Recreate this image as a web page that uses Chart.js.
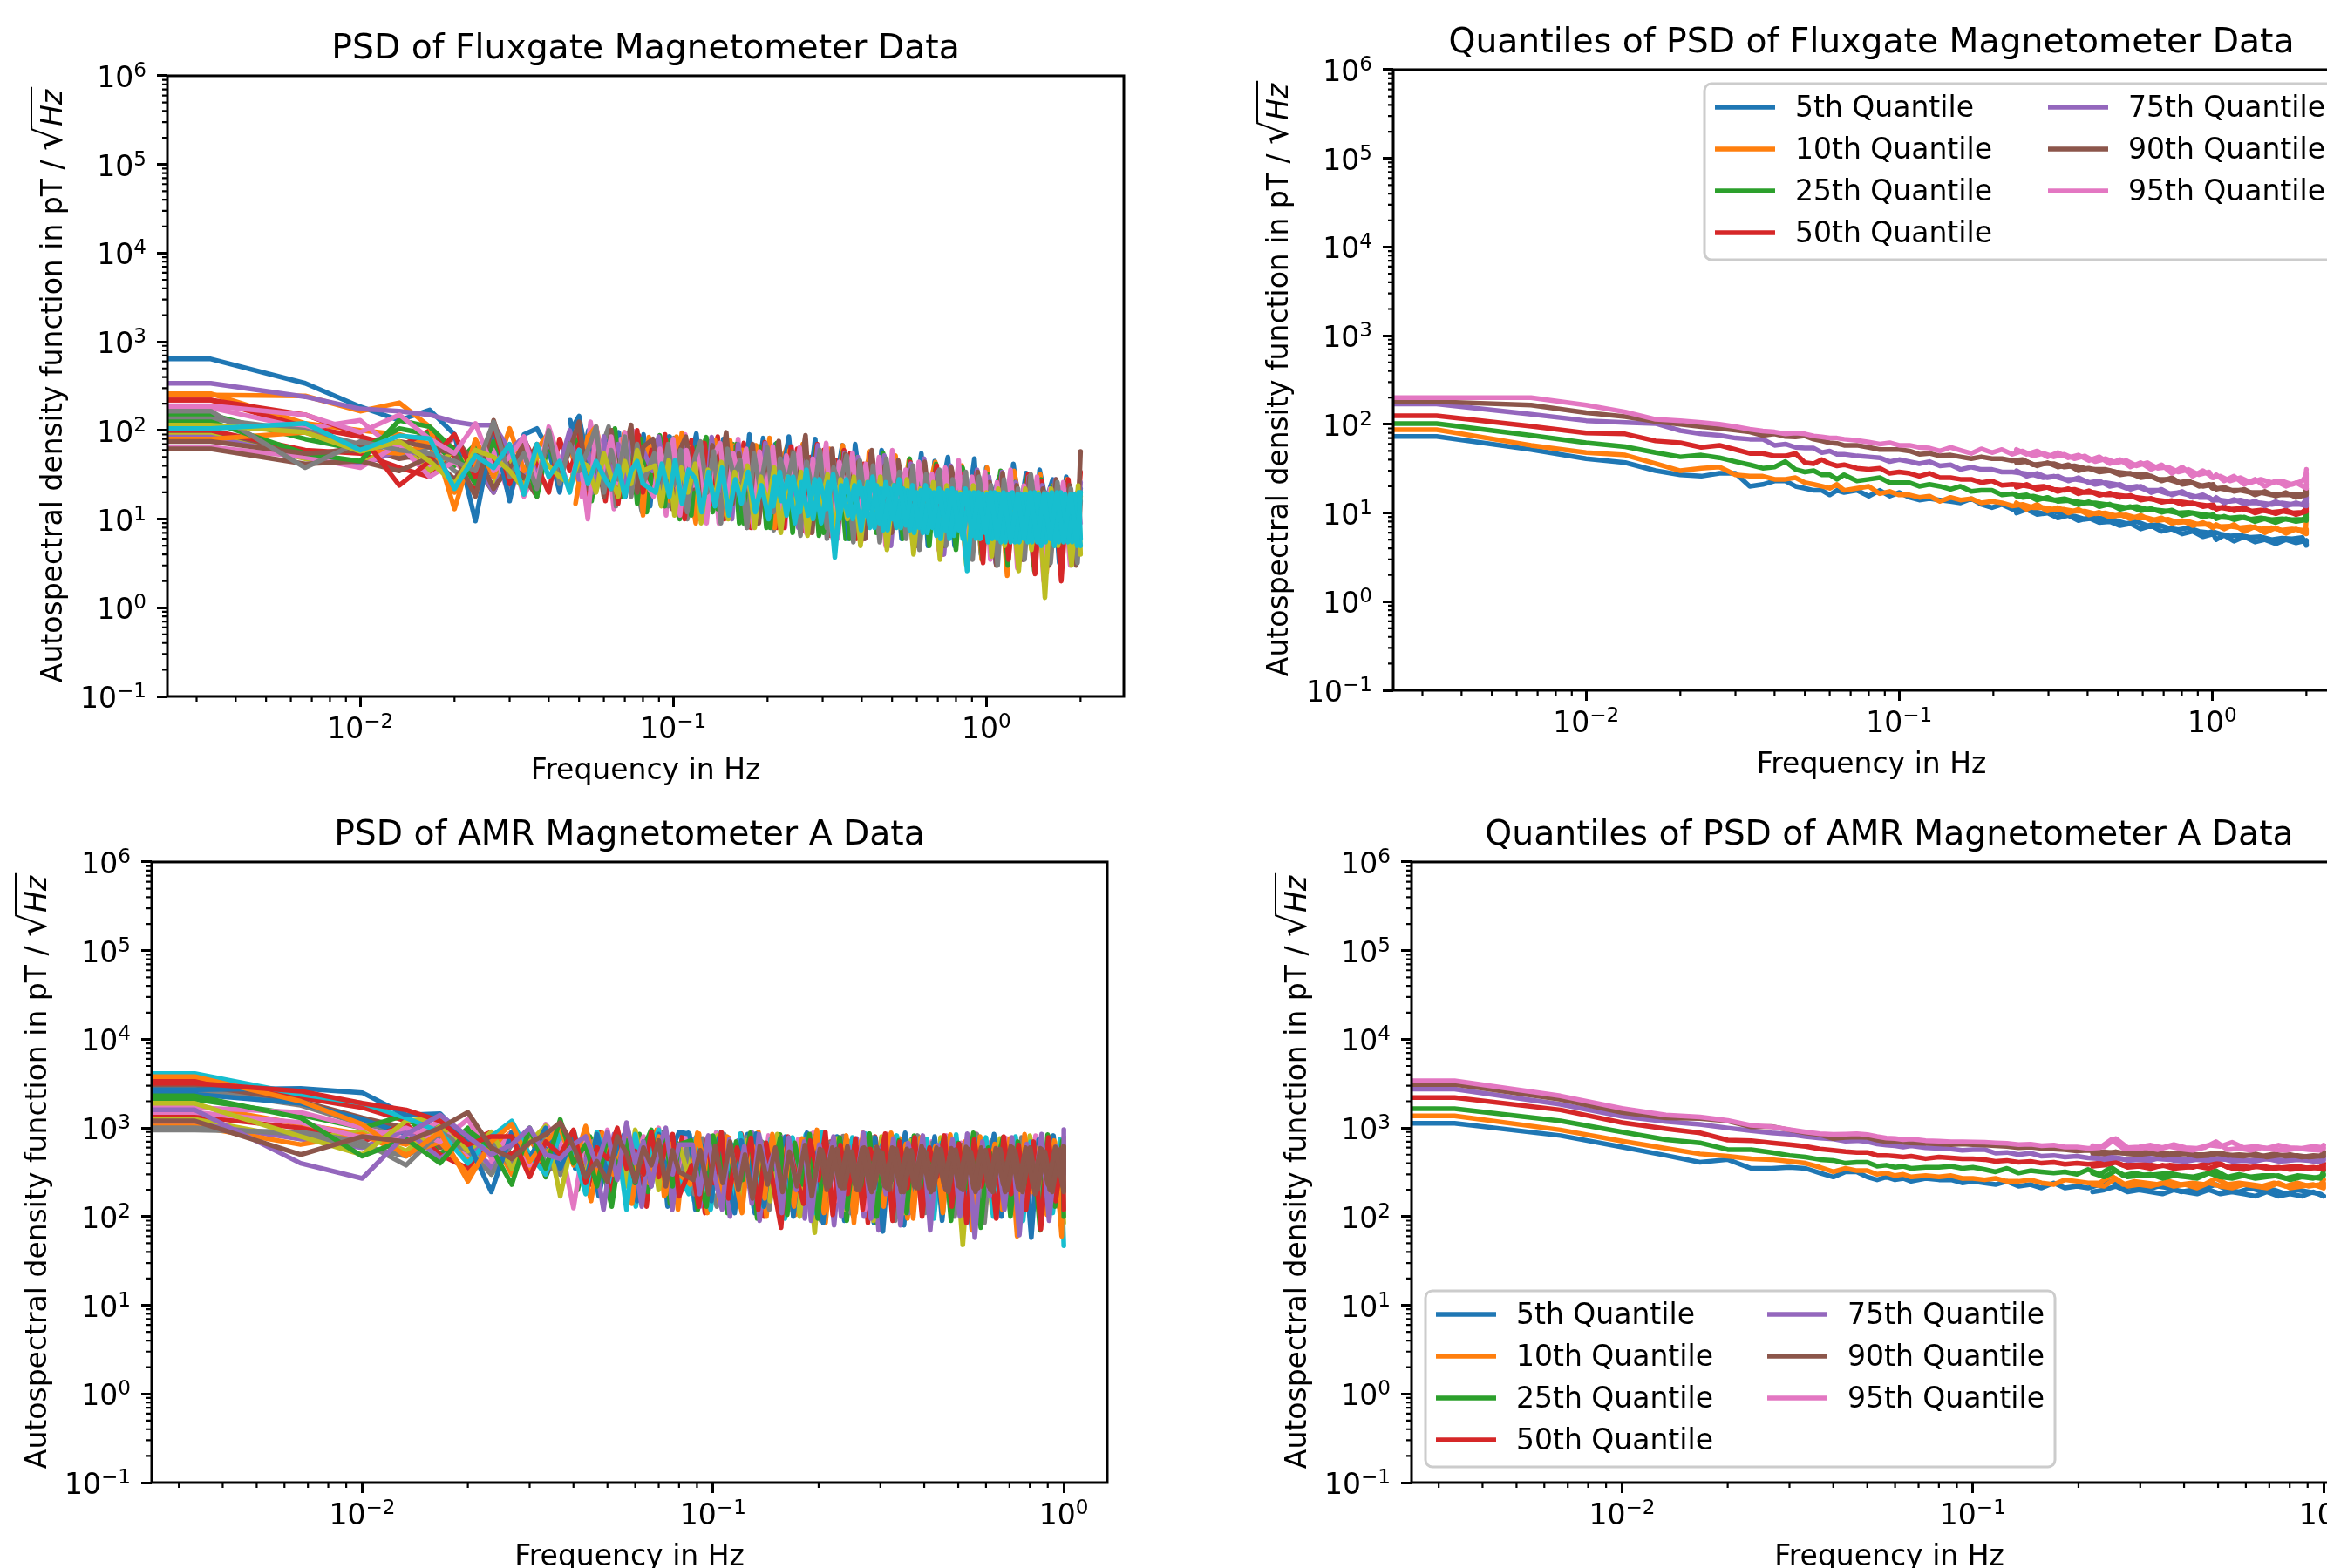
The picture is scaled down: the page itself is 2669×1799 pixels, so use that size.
<!DOCTYPE html>
<html>
<head>
<meta charset="utf-8">
<script src="https://cdn.jsdelivr.net/npm/chart.js@4"></script>
<style>
html, body { margin: 0; background: #fff; }
body { width: 2669px; height: 1799px; overflow: hidden; position: relative; }
canvas { position: absolute; }
</style>
</head>
<body>
<canvas id="fluxPsd" style="left:32px;top:26px" width="1280" height="879"></canvas>
<canvas id="fluxQuant" style="left:1438px;top:19px" width="1280" height="879"></canvas>
<canvas id="amrPsd" style="left:14px;top:928px" width="1280" height="879"></canvas>
<canvas id="amrQuant" style="left:1459px;top:928px" width="1280" height="879"></canvas>
<script>
var palette = ['#1f77b4', '#ff7f0e', '#2ca02c', '#d62728', '#9467bd', '#8c564b', '#e377c2', '#7f7f7f', '#bcbd22', '#17becf'];

var xDecades = [0.001, 0.01, 0.1, 1];
var xTickExponents = ['', '−2', '−1', '0'];
var yDecades = [0.1, 1, 10, 100, 1000, 10000, 100000, 1000000];
var yTickExponents = ['−1', '0', '1', '2', '3', '4', '5', '6'];
var quantileLabels = ['5th Quantile', '10th Quantile', '25th Quantile', '50th Quantile', '75th Quantile', '90th Quantile', '95th Quantile'];

// frequencies shared by the two raw PSD panels
var freqs = [0.0024, 0.00333, 0.00667, 0.01, 0.01333, 0.01667, 0.02, 0.02333, 0.02667, 0.03, 0.03333, 0.03667, 0.04, 0.04333, 0.04667, 0.05, 0.05333, 0.05667, 0.06, 0.06333, 0.06667, 0.07, 0.07333, 0.07667, 0.08,
  0.084, 0.088, 0.093, 0.097, 0.102, 0.107, 0.113, 0.118, 0.124, 0.13, 0.137, 0.144, 0.151, 0.158, 0.166, 0.175, 0.183, 0.193, 0.202, 0.212, 0.223, 0.234, 0.246, 0.258, 0.271, 0.284, 0.299, 0.314, 0.329, 0.346, 0.363, 0.381, 0.4, 0.42, 0.441, 0.463, 0.486, 0.51, 0.536, 0.563, 0.591, 0.62, 0.651, 0.684, 0.718, 0.754, 0.792, 0.831, 0.873, 0.916, 0.962, 1,
  1.05, 1.1, 1.16, 1.22, 1.28, 1.34, 1.41, 1.48, 1.55, 1.63, 1.71, 1.8, 1.89, 2];
// frequencies shared by the two quantile panels
var qFreqs = [0.0024, 0.00333, 0.00667, 0.01, 0.01333, 0.01667, 0.02, 0.02333, 0.02667, 0.03, 0.03333, 0.03667, 0.04, 0.04333, 0.04667, 0.05, 0.05333, 0.05667, 0.06, 0.0633, 0.0667, 0.0733, 0.08, 0.0867, 0.0933, 0.1,
  0.108, 0.116, 0.125, 0.135, 0.146, 0.157, 0.17, 0.183, 0.198, 0.213, 0.23, 0.248, 0.268, 0.289, 0.312, 0.337, 0.363, 0.392, 0.423, 0.457, 0.493, 0.532, 0.574, 0.62, 0.669, 0.722, 0.779, 0.841, 0.907, 0.979, 1,
  1.06, 1.14, 1.23, 1.33, 1.43, 1.55, 1.67, 1.8, 1.94, 1.99, 2];

// fluxgate, the crowd of lines that only matter at the left end
var fluxFanColors = [1, 3, 6, 2, 7, 5, 3, 8, 4, 1, 6, 5];
var fluxFan = [
  [260,260,120,100,90,70,60,35,50,28,60,40],
  [220,220,110,85,65,100,50,30,70,35,28,55],
  [180,180,105,130,55,40,85,28,30,60,18,40],
  [150,150,80,60,105,90,40,70,30,50,25,60],
  [135,135,100,70,50,65,35,25,60,22,50,30],
  [95,95,52,65,48,55,85,40,20,55,35,70],
  [100,100,60,55,38,30,65,22,45,30,60,25],
  [88,88,48,42,70,35,60,30,25,50,20,45],
  [84,84,50,40,60,52,28,45,20,60,35,25],
  [80,80,95,60,55,70,20,40,85,30,25,50],
  [65,65,50,38,70,30,45,25,60,18,50,28],
  [62,62,42,45,35,50,28,60,22,40,30,18]
];
// middle stretch only, starts at freqs[14]
var fluxMidStart = 14;
var fluxMidColors = [0, 3, 6, 2, 7, 1];
var fluxMid = [
  [130,30,100,22,85,40,95,18,70,28,90,14,75,35,85,12,60,45,92,20,70,14,80,32,65,11,75,24,82,10,60,38,70,9,58,28,72,8,55,22,68,7,48,30],
  [25,110,35,80,16,100,30,65,20,88,12,70,42,90,15,60,30,78,10,66,38,85,10,58,26,72,8,60,34,68,8,52,24,62,7.5,50,30,60,6.5,46,20,55,6,42],
  [60,18,125,26,70,13,80,45,98,15,55,30,82,11,70,22,90,14,62,38,75,9,55,28,80,12,60,9,70,26,50,8,66,16,58,7,44,24,56,6,52,14,40,6],
  [90,40,16,72,28,105,18,60,35,80,12,55,88,22,66,10,74,30,50,84,12,62,24,70,9,54,36,66,8,48,20,58,7,50,30,44,6.5,54,14,40,6,46,18,36],
  [35,85,20,60,110,14,50,88,25,12,76,40,58,14,82,26,10,66,44,16,72,9,50,30,60,8,64,18,44,7.5,56,26,42,6.5,52,12,38,6,46,20,34,5.5,40,9],
  [15,70,100,24,55,18,92,30,60,11,84,20,50,72,14,94,28,9,60,40,78,11,48,68,18,9,52,32,62,8,42,72,12,46,8,56,20,36,6,48,10,38,5.5,44]
];
var fluxBlue = [640,640,340,185,130,170,90,9.5,105,16,90,105,60,20,95,145,40,70,28,90,35,70,22,80,30,
  30,75,20,85,35,70,15,80,28,60,14,75,25,65,12,90,22,55,10,70,30,85,12,60,20,80,9,55,22,65,6,70,18,45,8,60,25,50,6,40,16,55,5,45,20,50,5,35,14,48,4,38,18,30,4.5,42,12,33,3.5,36,16,28,3.2,30,9,22];
var fluxOrange = [250,250,245,165,205,110,13,80,30,105,35,60,95,30,70,25,85,110,40,60,30,95,20,75,35,
  70,25,60,16,85,30,65,12,72,22,55,13,78,30,60,10,68,18,82,24,8,60,28,70,7,52,20,62,9,68,16,48,6,58,20,40,7,52,14,46,5,36,22,44,4.5,34,13,40,6,30,3.5,38,10,26,2.3,35,14,25,3,32,2.5,24,11,28,4,18];
var fluxGreen = [125,125,55,45,130,110,60,25,75,35,60,18,75,28,85,30,60,25,70,22,65,30,85,15,60,
  25,60,14,78,22,55,11,66,30,75,13,50,26,70,9,62,18,58,8,72,24,50,10,60,22,66,7,48,16,58,6,50,20,44,7,56,12,40,6,48,18,36,5,42,11,34,4.5,38,15,28,3.5,32,9,35,3,26,12,30,2.6,28,7,24,3,26,10,20];
var fluxRed = [220,220,150,90,24,45,90,30,115,25,80,40,20,80,35,70,18,90,30,60,15,75,25,100,20,
  60,20,80,28,52,10,64,24,72,15,58,30,11,68,20,55,9,74,26,60,8,66,22,45,11,70,16,52,7,60,24,42,6,54,18,46,5.5,38,12,44,5,30,17,40,4,36,8,32,5,34,3.2,28,11,30,3.5,24,6,32,2.4,27,9,22,2,28,5,34];
var fluxPurple = [340,340,240,175,165,150,125,115,115,60,85,30,75,40,100,28,60,22,85,30,70,25,90,30,60,
  35,85,24,65,14,75,30,58,12,84,20,62,10,70,26,54,9,72,18,60,30,50,8,62,14,68,26,44,7,56,20,50,6,46,14,52,5,36,22,42,5,48,10,34,4,40,16,30,4.5,36,8,30,3.2,34,12,26,3.5,30,7,24,3,28,10,22,4,26];
var fluxBrown = [75,75,55,60,75,65,55,18,130,35,70,25,85,30,60,125,22,70,18,100,28,60,115,20,65,
  80,28,62,13,58,85,22,50,10,68,32,95,15,55,24,70,9,50,20,76,12,58,28,88,7,48,18,62,9,54,22,44,6,60,12,40,7,46,18,36,5,44,10,32,5,38,14,30,4,34,9,26,3,33,7,24,3.5,30,12,22,3,28,6,24,3,58];
var fluxPink = [190,190,150,95,150,80,55,120,35,50,85,25,110,45,22,60,10,110,35,85,25,95,20,60,30,
  18,62,30,80,11,60,24,68,9,50,72,14,55,28,62,8,58,20,66,11,52,26,64,7,48,18,72,6,44,22,56,8,42,14,50,5,60,10,36,6,44,16,32,4.5,38,9,46,4,30,12,34,3.5,26,8,36,2.8,24,7,30,2,22,8,26,3,20,9];
var fluxGray = [165,165,38,75,60,55,45,35,125,30,55,22,100,25,70,35,60,110,20,60,28,85,18,70,25,
  55,15,70,24,60,12,48,75,20,58,10,62,30,46,8,55,22,64,12,48,25,56,7,44,18,60,8,38,24,52,6,46,11,40,5.5,48,14,34,6,40,4.5,32,12,36,5,28,8,34,3.5,30,10,24,3,28,6,22,3.5,32,8,20,3.2,26,6,22,3.2,16];
var fluxOlive = [115,115,95,58,75,45,25,60,50,35,22,55,40,30,25,45,40,20,55,30,18,45,25,60,35,
  40,14,46,11,38,20,42,9,36,16,44,10,34,18,40,8,30,14,38,7,30,12,34,6.5,26,13,32,6,28,10,30,5,26,11,30,4.5,24,8,28,4,22,9,26,3.5,24,7,20,3,24,6,20,3.8,22,5,18,2.6,22,4.5,20,1.3,22,5,18,3,24,4];
var fluxCyan = [105,105,120,60,87,81,22,52,38,70,19,70,30,45,20,60,25,45,30,22,40,18,35,45,25,
  20,42,18,46,15,36,28,12,34,14,38,11,28,15,34,12,24,10,30,16,30,9,26,11,28,9,26,3.7,24,11,24,7.5,26,8,22,7.5,24,8,21,7,21,7,20,6,21,6.5,19,2.6,20,6,19,6,19,5.5,20,5.5,19,5.5,19,5.5,20,5.5,19,5.5,20,6];
// extra cyan traces for the solid core, they cover the last frequencies only
var fluxCyanTail = [22,8,24,7.5,22,8,22,7.5,20,7,21,6.5,20,6,20,6,20,6,19,5.5,20,5.5,19,5.5,19,5.5,20,5,19,5,20,5.5,19,5];
var fluxCyanTail2 = [14,34,11,30,12,36,10,28,13,32,10,28,10,26,11,30,9,26,10,28,8.5,24,8,24,8,22,7.5,22,7.5,22,6.5,20,7,20,6,20,5.5,19,6,20,5.5,19,6,20,5.5,19,5,20];

// AMR, same idea
var amrFanColors = [3, 5, 7, 0, 2, 1, 6, 3, 8, 4, 1, 7];
var amrFan = [
  [3400,3400,2200,1700,1200,1000,700,900,500,800,350,700],
  [3000,3000,2000,1300,1000,600,850,500,800,300,650,900],
  [2700,2700,1800,1100,900,950,500,700,400,850,550,300],
  [2400,2400,1900,1250,850,1100,650,350,900,500,700,350],
  [2100,2100,1400,1000,1400,500,1000,300,650,850,280,700],
  [1800,1800,1100,850,650,1000,450,800,300,700,500,850],
  [1700,1700,1500,1000,750,1200,500,400,850,300,700,450],
  [1350,1350,1000,700,1100,500,350,800,450,950,300,600],
  [1250,1250,750,900,550,1050,650,300,750,400,850,320],
  [1120,1120,750,600,950,450,750,350,650,900,350,600],
  [1050,1050,650,850,500,700,300,600,900,350,500,750],
  [1000,1000,850,620,480,800,550,300,700,400,900,300]
];
// middle stretch only, starts at freqs[12]
var amrMidStart = 12;
var amrMidColors = [9, 0, 3, 2, 1, 4];
var amrMid = [
  [900,300,700,200,820,450,130,750,250,880,170,620,380,800,150,700,280,900,140,650,230,820,125,600,340,760,130,680,220,840,110,590,300,780,120,700,200,860,100,640,260,800,105,660],
  [350,850,170,650,280,900,150,720,420,800,130,600,250,880,120,700,330,780,140,620,220,850,110,680,300,760,100,640,190,880,95,620,280,800,90,720,230,680,85,780,210,620,80,740],
  [700,220,900,160,600,350,780,130,880,280,600,150,820,200,680,110,760,340,620,120,860,220,560,100,780,300,680,110,600,240,840,90,700,180,760,120,640,85,800,260,580,100,720,190],
  [200,800,420,130,720,300,850,190,560,900,140,680,260,760,120,640,380,820,110,580,260,760,95,680,300,840,130,560,220,780,100,660,340,720,90,600,250,860,85,680,180,740,120,620],
  [560,150,880,300,700,140,640,240,950,170,720,120,600,380,860,110,680,220,780,130,640,330,900,100,560,240,760,105,700,280,820,85,620,190,720,110,880,260,90,640,170,760,95,680],
  [280,700,120,850,240,620,130,780,360,900,120,560,220,740,130,820,260,640,100,720,310,880,90,600,180,780,120,680,95,860,250,620,80,700,300,760,100,640,70,820,200,580,110,720]
];
var amrPink = [1500,1500,1150,780,1000,700,1250,450,900,380,1100,700,125,880,300,950,280,900,420,800,250,1000,350,750,180,
  800,220,700,170,880,300,600,180,750,260,140,820,350,650,120,750,280,880,210,680,150,800,320,620,120,760,240,850,140,640,280,780,130,700,300,820,110,680,220,860,140,700,100,770,280,650,120,820,190,720,130,780];
var amrGray = [950,950,900,700,380,900,600,750,350,950,400,300,850,280,700,350,900,250,650,300,850,230,800,400,200,
  620,180,760,250,130,850,400,160,780,300,700,120,800,220,620,110,760,330,90,690,240,810,110,600,300,780,120,700,90,620,240,820,110,680,280,760,100,640,200,840,85,720,260,600,120,780,170,650,110,800,130,700];
var amrOlive = [1900,1900,800,500,1200,1300,550,900,350,700,1050,170,800,280,900,300,750,220,950,350,700,200,850,280,650,
  300,700,160,620,820,200,550,130,720,280,640,150,850,230,560,100,700,66,620,260,760,120,540,300,700,90,800,180,640,110,720,240,580,100,780,170,600,48,700,230,650,110,760,180,560,95,820,220,620,140,700,85];
var amrCyan = [4100,4100,2400,1900,1300,900,400,800,1200,500,300,850,550,180,900,400,720,120,850,300,600,950,200,700,300,
  180,780,300,120,700,500,150,860,250,640,130,750,400,95,780,240,620,110,900,320,560,130,780,210,700,100,650,300,820,120,600,250,750,95,680,180,840,110,560,280,780,100,620,190,800,90,700,240,600,110,750,47];
var amrBlue = [2700,2700,2800,2500,1400,1450,700,190,900,450,1000,350,800,250,850,300,600,950,240,700,220,850,320,600,900,
  850,200,640,150,780,320,110,720,240,860,130,600,350,800,100,680,190,840,85,650,300,760,100,600,220,780,68,700,280,880,110,620,180,800,90,720,300,580,70,760,210,850,100,640,280,600,58,740,180,820,100,650];
var amrOrange = [3800,3800,2000,1100,480,900,250,700,1100,420,700,1000,380,1050,300,800,380,950,300,650,250,800,180,700,300,
  230,880,340,680,140,800,260,110,720,520,160,850,220,600,130,760,300,950,110,640,200,820,85,720,280,600,130,880,200,660,95,780,300,620,110,840,160,700,70,800,240,660,120,760,60,850,190,620,105,720,60,780];
var amrGreen = [2300,2300,1300,480,750,400,950,600,230,1000,350,1250,400,650,220,800,350,720,240,600,950,320,750,220,650,
  720,280,130,820,420,170,700,260,880,120,620,340,780,105,680,230,850,95,560,290,780,120,650,200,860,100,600,260,720,110,820,180,560,290,760,90,680,210,880,75,600,320,780,100,700,170,620,70,840,130,720,100];
var amrRed = [3200,3200,2600,1900,1600,1200,650,800,800,280,700,500,950,240,600,450,1000,350,550,300,900,280,650,850,170,
  380,130,760,240,900,160,600,350,770,120,680,210,75,800,300,140,720,260,900,105,640,180,760,120,580,320,860,90,700,210,780,100,600,280,820,130,660,85,740,220,560,95,800,180,640,120,700,72,780,150,620,120];
var amrPurple = [1600,1600,400,270,850,1400,800,500,650,1000,500,450,650,800,380,900,260,1150,400,700,220,600,1000,300,650,
  650,180,800,300,120,740,230,620,140,850,310,560,110,780,200,700,90,650,290,800,100,620,230,880,95,600,180,760,80,680,260,820,70,640,210,740,100,860,58,700,170,580,120,780,62,660,210,850,90,620,300,960];
var amrBrown = [1200,1200,500,800,700,1000,1500,600,450,680,850,1150,620,280,420,250,800,520,250,600,380,720,220,560,320,
  260,560,180,620,240,700,200,500,160,620,230,600,190,540,220,640,170,580,200,560,210,520,200,600,190,560,210,580,190,540,210,570,190,540,200,560,210,580,190,530,200,560,190,600,200,540,180,570,200,550,190,620];
// extra brown traces, 0.202 Hz to 1 Hz
var amrBrownTail = [560,220,580,210,540,200,570,210,530,200,580,190,560,210,530,200,580,190,570,200,540,210,560,190,580,200,550,190,600,200,540,190,570,210];
var amrBrownTail2 = [240,600,220,620,230,590,210,610,220,600,230,580,220,620,210,600,230,590,220,610,210,600,220,590,230,620,210,600,220,590,230,610,220,600];

// fluxgate quantiles
var fluxQ5 = [73,73,52,41,37,30,27,26,28,28,20,21,23,23,20,19,18,18,16,18,17,18,15.5,18,15.5,17,
  15,14,14.5,14,13.5,13,14.5,12.5,11.5,12.5,11,11,10.5,9.8,10.5,9.5,9.2,8.5,8.8,8.6,8.2,7.6,8,7.2,7.4,6.8,6.5,6.8,6.2,6,6.2,5.8,5.5,5.6,5.3,5.4,5,5.2,5.1,5.3,4.5,4.4];
var fluxQ10 = [87,87,58,48,45,36,30,32,33,27,26,26,24,24,25,22,21,20,19,21,18,19,20,16.5,17.5,16,
  16,15,15.5,13.5,15,14,14.5,13,13.5,13,12,12.5,11.5,11.5,11,11,10.5,10.5,9.8,10,9.3,9.5,8.8,8.8,8.2,8.5,7.8,8,7.4,7.5,7.2,7,7.1,6.8,7,6.6,6.8,6.4,6.6,6.4,6.5,9];
var fluxQ25 = [102,102,75,62,56,48,43,45,42,38,35,32,33,38,31,29,30,27,27,24,27,23,24,25,22,22,
  22,20,21,20,18.5,20,17.5,18,18,16,16.5,15,15.5,14.5,14,14.5,13.5,13,13,12.5,12,11.5,11.8,11,10.8,10.5,10,10.2,9.8,9.4,9.2,9,8.8,9,8.5,8.8,8.4,8.6,8.4,8.5,8.6,12];
var fluxQ50 = [125,125,95,80,78,65,62,55,58,52,47,47,44,44,47,37,36,40,36,34,35,32,31,32,28,29,
  28,26,28,25,25,24,24,22,23,20.5,21,20.5,19.5,20,18.5,18,18.5,17,17,16,16,15.5,15,14.5,14,13.5,13.5,13,12.5,12,11.5,11.5,11,11.2,10.5,10.8,10.2,10.5,10,10.2,11,15];
var fluxQ75 = [170,170,130,110,105,102,85,78,75,70,68,68,58,60,55,54,54,48,50,46,46,44,43,42,38,40,
  38,36,38,34,35,31,33,31,31,29,29,28,27,25,26,24,24,23,21,22,21,19,20,18,18,16.5,17,16,15,15,14,14,13.5,14,13,13,12.5,13,12.5,12.5,14,19];
var fluxQ90 = [180,180,165,135,122,108,100,94,90,86,82,75,78,73,72,74,68,65,62,61,58,58,55,52,52,52,
  50,46,47,44,45,43,41,43,41,41,39,40,35,36,36,33,34,32,31,31,29,28,27,27,24,24,22,23,20,21,19,19,18,18,17,17,16,16,16,16,17,21];
var fluxQ95 = [200,200,200,165,138,114,110,105,100,94,88,84,82,78,80,78,74,72,70,70,68,66,63,60,62,58,
  58,55,54,50,55,51,47,53,48,52,46,50,44,47,43,46,41,44,38,41,37,39,34,37,32,33,29,31,27,29,25,26,23,25,22,24,22,23,21,23,26,31];
// second trace per quantile above 0.23 Hz, the noise there makes the lines read thicker
var fluxQ5b = [10,11,9.6,10,8.8,9.4,8.2,8.8,7.8,8,7.2,7.6,6.6,7.2,6.2,6.6,5.8,6.2,5.4,5.8,5,5.6,4.8,5.4,4.7,5,4.5,5,4.6,4.9,4.8,4.3];
var fluxQ10b = [13,11,12.5,10.5,11.5,10,11,9.5,10.2,9,9.6,8.6,9.4,8.2,8.8,7.6,8.2,7.2,7.8,6.8,7.4,6.6,7.4,6.2,7,6,6.8,5.9,6.6,5.8,6.4,6.5];
var fluxQ25b = [15.5,16,14,15,13.5,13.8,12.4,13.4,11.8,12.6,11,11.8,10.6,11.2,10.2,10.8,9.4,10,9,9.6,8.6,9.2,8.4,9,8,8.6,7.8,8.6,8,8.4,8.2,10.5];
var fluxQ50b = [19.5,21,18.5,19.5,17.5,18.8,16.5,17.8,15.8,16.8,15,15.8,14,14.6,13.2,13.8,12.4,13,11.8,12.4,11,11.8,10.6,11.4,10,10.8,9.8,10.8,9.6,10.4,10.4,13];
var fluxQ75b = [30,26,28,25,26,23,25,22,23,20,21,18.5,20,17,18.5,16,17.5,15,16,14,15,13,14.2,12.6,13.6,12,13.4,12,13,12,13,17];
var fluxQ90b = [37,38,34,37,33,35,30,32,29,30,27,28,25,26,23,25,21,22,20,21,18.5,19.5,17.5,18.5,16,17.5,15.5,17,15,16,16,19];
var fluxQ95b = [52,46,50,43,48,42,45,39,43,36,40,33,37,31,35,28,33,26,30,25,27,23,26,21,24,20,23,20,22,19,25,28];

// AMR quantiles
var amrQ5 = [1130,1130,820,610,490,410,440,350,350,360,350,310,280,320,320,280,260,280,260,270,250,270,260,260,240,250,
  240,230,250,220,230,210,240,210,220,210,230,250,210,220,200,220,210,190,200,210,230,200,190,210,190,200,180,200,190,180,170];
var amrQ10 = [1370,1370,950,710,590,510,480,450,440,420,400,360,320,350,330,330,300,310,290,300,280,290,280,290,270,270,
  260,270,250,250,260,240,230,260,250,240,240,290,230,250,240,230,250,230,240,230,270,230,240,230,220,240,220,240,220,230,260];
var amrQ25 = [1650,1650,1200,900,740,680,570,570,530,490,470,440,430,400,410,410,370,380,360,370,350,360,360,370,350,360,
  340,320,350,310,330,320,310,320,300,340,300,360,290,310,290,300,310,290,280,300,330,280,300,280,290,290,270,290,280,270,330];
var amrQ50 = [2200,2200,1600,1150,980,880,730,720,680,650,620,580,560,540,530,530,490,490,480,470,480,450,470,460,450,450,
  440,420,430,410,420,400,410,390,400,390,400,430,380,380,390,370,380,370,360,390,420,360,370,360,370,350,360,370,350,360,400];
var amrQ75 = [2750,2750,1850,1350,1180,1100,1000,930,880,850,800,770,750,710,720,700,660,640,630,610,630,600,590,580,560,570,
  570,520,530,500,520,480,490,470,480,460,450,470,450,440,460,450,440,450,440,460,450,440,440,430,450,440,430,440,430,420,470];
var amrQ90 = [3100,3100,2100,1500,1300,1280,1200,1030,1040,950,880,840,760,780,790,780,730,700,700,690,680,670,660,650,660,650,
  640,630,620,600,610,590,580,570,550,560,540,530,520,520,540,510,510,530,500,500,520,490,500,490,480,510,480,490,470,480,540];
var amrQ95 = [3400,3400,2300,1660,1400,1330,1215,1070,1030,960,900,860,845,850,860,840,800,770,760,740,750,720,710,700,700,695,
  690,680,670,650,655,630,640,610,610,590,600,740,590,580,600,570,620,580,560,600,700,570,590,560,600,570,560,590,570,560,640];
var amrQ5b = [190,200,220,190,200,190,180,200,190,180,200,180,190,180,170,190,170,180,170,190,170,170];
var amrQ10b = [230,220,270,220,230,220,240,220,230,210,240,220,210,230,220,210,240,210,220,230,210,240];
var amrQ25b = [310,280,330,280,290,300,270,290,280,270,310,280,270,290,270,280,290,260,280,270,290,300];
var amrQ50b = [370,380,410,360,370,350,380,350,360,370,350,390,350,340,370,350,360,340,350,360,340,380];
var amrQ75b = [480,440,460,430,440,430,470,430,420,440,430,460,420,430,420,450,420,430,450,420,430,450];
var amrQ90b = [520,510,540,510,500,520,490,500,510,480,490,520,490,480,510,470,490,500,470,490,480,520];
var amrQ95b = [630,610,760,600,610,640,600,650,600,590,640,620,690,600,620,590,640,600,590,620,600,590];

var TICK_FONT = 33;
var TITLE_FONT = 39.3;
var LINE_W = 5.5;
var MAJOR_TICK = 12;
var MINOR_TICK = 6;

Chart.defaults.font.family = '"DejaVu Sans"';
Chart.defaults.color = '#000';
Chart.defaults.animation = false;

function line(points, color, label) {
  return {
    label: label,
    data: points,
    borderColor: color,
    borderWidth: LINE_W,
    borderJoinStyle: 'round',
    borderCapStyle: 'round',
    pointRadius: 0,
    tension: 0,
    clip: 0
  };
}

// vals start at the first frequency of xs
function headPoints(xs, vals, shift) {
  return vals.map(function (y, i) {
    // the raw traces are thinned out above 0.08 Hz, every trace keeps a slightly different subset
    var f = i >= 25 ? Math.min(xs[i] * (1 + shift), xs[vals.length - 1]) : xs[i];
    return { x: f, y: y };
  });
}

// vals start at xs[start]
function midPoints(xs, vals, start, shift) {
  return vals.map(function (y, i) { return { x: xs[start + i] * (1 + shift), y: y }; });
}

// vals end at the last frequency of xs
function tailPoints(xs, vals, shift) {
  var from = xs.length - vals.length;
  return vals.map(function (y, i) {
    return { x: Math.min(xs[from + i] * (1 + shift), xs[xs.length - 1]), y: y };
  });
}

function logTicks(decades, exponents, min, max) {
  var out = [];
  decades.forEach(function (v, d) {
    for (var m = 1; m <= 9; m++) {
      var val = m * v;
      if (val >= min && val <= max) {
        out.push({ value: val, major: m === 1, exponent: m === 1 ? exponents[d] : '' });
      }
    }
  });
  return out;
}

// top/right spines and the short minor ticks, chart.js only does one tick length
var framePlugin = {
  id: 'frame',
  afterDraw: function (chart) {
    var ctx = chart.ctx, a = chart.chartArea;
    ctx.save();
    ctx.strokeStyle = '#000';
    ctx.lineWidth = 3;
    ctx.strokeRect(a.left, a.top, a.right - a.left, a.bottom - a.top);
    ctx.lineWidth = 2.2;
    ctx.beginPath();
    chart.scales.x.ticks.forEach(function (t) {
      if (t.major) return;
      var px = chart.scales.x.getPixelForValue(t.value);
      ctx.moveTo(px, a.bottom);
      ctx.lineTo(px, a.bottom + MINOR_TICK);
    });
    chart.scales.y.ticks.forEach(function (t) {
      if (t.major) return;
      var py = chart.scales.y.getPixelForValue(t.value);
      ctx.moveTo(a.left, py);
      ctx.lineTo(a.left - MINOR_TICK, py);
    });
    ctx.stroke();
    ctx.restore();
  }
};

// power of ten labels, the exponent is a smaller raised run like mathtext
var powerLabelPlugin = {
  id: 'powerLabels',
  afterDraw: function (chart) {
    var ctx = chart.ctx, a = chart.chartArea;
    var big = TICK_FONT + 'px "DejaVu Sans"';
    var small = (TICK_FONT * 0.7) + 'px "DejaVu Sans"';
    function widths(exp) {
      ctx.font = big;
      var w1 = ctx.measureText('10').width;
      ctx.font = small;
      return [w1, ctx.measureText(exp).width];
    }
    function put(exp, x, baseline, w1) {
      ctx.font = big;
      ctx.fillText('10', x, baseline);
      ctx.font = small;
      ctx.fillText(exp, x + w1, baseline - 12);
    }
    ctx.save();
    ctx.fillStyle = '#000';
    ctx.textBaseline = 'alphabetic';
    ctx.textAlign = 'left';
    chart.scales.x.ticks.forEach(function (t) {
      if (!t.major) return;
      var w = widths(t.exponent);
      put(t.exponent, chart.scales.x.getPixelForValue(t.value) - (w[0] + w[1]) / 2, a.bottom + 48, w[0]);
    });
    chart.scales.y.ticks.forEach(function (t) {
      if (!t.major) return;
      var w = widths(t.exponent);
      put(t.exponent, a.left - 24 - w[0] - w[1], chart.scales.y.getPixelForValue(t.value) + 13, w[0]);
    });
    ctx.restore();
  }
};

// y title has a math part, so it is put together by hand
var yLabelPlugin = {
  id: 'ylabel',
  afterDraw: function (chart) {
    var ctx = chart.ctx, a = chart.chartArea;
    var plain = 'Autospectral density function in pT / ';
    var sqrt = '√';
    var unit = 'Hz';
    var normal = TICK_FONT + 'px "DejaVu Sans"';
    var radical = '44px "DejaVu Sans"';
    var italic = 'italic ' + TICK_FONT + 'px "DejaVu Sans"';
    ctx.save();
    ctx.translate(a.left - 121, (a.top + a.bottom) / 2);
    ctx.rotate(-Math.PI / 2);
    ctx.fillStyle = '#000';
    ctx.textBaseline = 'alphabetic';
    ctx.font = normal;
    var w1 = ctx.measureText(plain).width;
    ctx.font = radical;
    var w2 = ctx.measureText(sqrt).width;
    ctx.font = italic;
    var w3 = ctx.measureText(unit).width;
    var x = -(w1 + w2 + w3) / 2;
    ctx.font = normal;
    ctx.fillText(plain, x, 0);
    ctx.font = radical;
    ctx.fillText(sqrt, x + w1, 0);
    ctx.font = italic;
    ctx.fillText(unit, x + w1 + w2, 0);
    ctx.strokeStyle = '#000';
    ctx.lineWidth = 2;
    ctx.beginPath();
    ctx.moveTo(x + w1 + w2 - 2, -35);
    ctx.lineTo(x + w1 + w2 + w3 + 3, -35);
    ctx.stroke();
    ctx.restore();
  }
};

// matplotlib style two column legend sitting inside the axes
var quantLegendPlugin = {
  id: 'quantLegend',
  afterDraw: function (chart, args, o) {
    if (o.dx === undefined) return;
    var ctx = chart.ctx, a = chart.chartArea;
    var bx = a.left + o.dx, by = a.top + o.dy;
    ctx.save();
    ctx.fillStyle = 'rgba(255,255,255,0.8)';
    ctx.strokeStyle = '#ccc';
    ctx.lineWidth = 3;
    ctx.beginPath();
    ctx.roundRect(bx, by, 722, 202, 8);
    ctx.fill();
    ctx.stroke();
    ctx.font = TICK_FONT + 'px "DejaVu Sans"';
    ctx.textBaseline = 'middle';
    chart.data.datasets.filter(function (ds) { return ds.label; }).forEach(function (ds, i) {
      var col = i < 4 ? 0 : 1;
      var row = i < 4 ? i : i - 4;
      var ly = by + 27 + row * 48;
      var lx = bx + 12 + col * o.colGap;
      ctx.strokeStyle = ds.borderColor;
      ctx.lineWidth = LINE_W;
      ctx.beginPath();
      ctx.moveTo(lx, ly);
      ctx.lineTo(lx + 69, ly);
      ctx.stroke();
      ctx.fillStyle = '#000';
      ctx.fillText(ds.label, lx + 92, ly + 2);
    });
    ctx.restore();
  }
};

function tickColor(c) {
  return c.tick && c.tick.major ? '#000' : 'transparent';
}

function makePanel(id, title, xMin, xMax, plotW, datasets, legend) {
  datasets.forEach(function (ds, i) { ds.order = -i; });
  return new Chart(document.getElementById(id), {
    type: 'line',
    data: { datasets: datasets },
    plugins: [framePlugin, powerLabelPlugin, yLabelPlugin, quantLegendPlugin],
    options: {
      responsive: false,
      devicePixelRatio: 1,
      events: [],
      layout: { padding: { left: 0, top: 0, bottom: 0, right: 1280 - 160 - plotW } },
      plugins: {
        legend: { display: false },
        tooltip: { enabled: false },
        quantLegend: legend || {},
        title: {
          display: true,
          text: title,
          fullSize: false,
          color: '#000',
          font: { size: TITLE_FONT, weight: 'normal', lineHeight: 1.2 },
          padding: { top: 7.6, bottom: 6.2 }
        }
      },
      scales: {
        x: {
          type: 'logarithmic',
          min: xMin,
          max: xMax,
          afterBuildTicks: function (s) { s.ticks = logTicks(xDecades, xTickExponents, xMin, xMax); },
          afterFit: function (s) { s.height = 106; },
          border: { display: false },
          grid: { drawOnChartArea: false, tickLength: MAJOR_TICK, tickWidth: 3, tickColor: tickColor },
          ticks: { display: false, autoSkip: false, maxRotation: 0, minRotation: 0 },
          title: { display: true, text: 'Frequency in Hz', font: { size: TICK_FONT, lineHeight: 1.2 }, padding: 0 }
        },
        y: {
          type: 'logarithmic',
          min: 0.1,
          max: 1000000,
          afterBuildTicks: function (s) { s.ticks = logTicks(yDecades, yTickExponents, 0.1, 1000000); },
          afterFit: function (s) { s.width = 160; },
          border: { display: false },
          grid: { drawOnChartArea: false, tickLength: MAJOR_TICK, tickWidth: 3, tickColor: tickColor },
          ticks: { display: false, autoSkip: false }
        }
      }
    }
  });
}

function rawSets(xs, fan, fanColors, mid, midStart, midColors, lines, lineColors, tails, tailColor) {
  var sets = fan.map(function (v, i) { return line(headPoints(xs, v, 0), palette[fanColors[i]]); });
  mid.forEach(function (v, i) { sets.push(line(midPoints(xs, v, midStart, 0.004 + i * 0.008), palette[midColors[i]])); });
  lines.forEach(function (v, i) { sets.push(line(headPoints(xs, v, i * 0.005), palette[lineColors[i]])); });
  tails.forEach(function (v, i) { sets.push(line(tailPoints(xs, v, 0.012 + i * 0.02), tailColor)); });
  return sets;
}

function quantSets(xs, series, seconds) {
  var sets = [];
  series.forEach(function (v, i) {
    sets.push(line(v.map(function (y, k) { return { x: xs[k], y: y }; }), palette[i], quantileLabels[i]));
    sets.push(line(tailPoints(xs, seconds[i], 0.03), palette[i]));
  });
  return sets;
}

makePanel('fluxPsd', 'PSD of Fluxgate Magnetometer Data', 0.00242, 2.75, 1097,
  rawSets(freqs, fluxFan, fluxFanColors, fluxMid, fluxMidStart, fluxMidColors,
    [fluxBlue, fluxOrange, fluxGreen, fluxRed, fluxPurple, fluxBrown, fluxPink, fluxGray, fluxOlive, fluxCyan],
    [0, 1, 2, 3, 4, 5, 6, 7, 8, 9],
    [fluxCyanTail, fluxCyanTail2], palette[9]));

makePanel('fluxQuant', 'Quantiles of PSD of Fluxgate Magnetometer Data', 0.00242, 2.75, 1097,
  quantSets(qFreqs,
    [fluxQ5, fluxQ10, fluxQ25, fluxQ50, fluxQ75, fluxQ90, fluxQ95],
    [fluxQ5b, fluxQ10b, fluxQ25b, fluxQ50b, fluxQ75b, fluxQ90b, fluxQ95b]),
  { dx: 357, dy: 16, colGap: 382 });

makePanel('amrPsd', 'PSD of AMR Magnetometer A Data', 0.00251, 1.33, 1096,
  rawSets(freqs.slice(0, amrBrown.length), amrFan, amrFanColors, amrMid, amrMidStart, amrMidColors,
    [amrPink, amrGray, amrOlive, amrCyan, amrBlue, amrOrange, amrGreen, amrRed, amrPurple, amrBrown],
    [6, 7, 8, 9, 0, 1, 2, 3, 4, 5],
    [amrBrownTail, amrBrownTail2], palette[5]));

makePanel('amrQuant', 'Quantiles of PSD of AMR Magnetometer A Data', 0.00251, 1.33, 1096,
  quantSets(qFreqs.slice(0, amrQ5.length),
    [amrQ5, amrQ10, amrQ25, amrQ50, amrQ75, amrQ90, amrQ95],
    [amrQ5b, amrQ10b, amrQ25b, amrQ50b, amrQ75b, amrQ90b, amrQ95b]),
  { dx: 16, dy: 492, colGap: 380 });
</script>
</body>
</html>
